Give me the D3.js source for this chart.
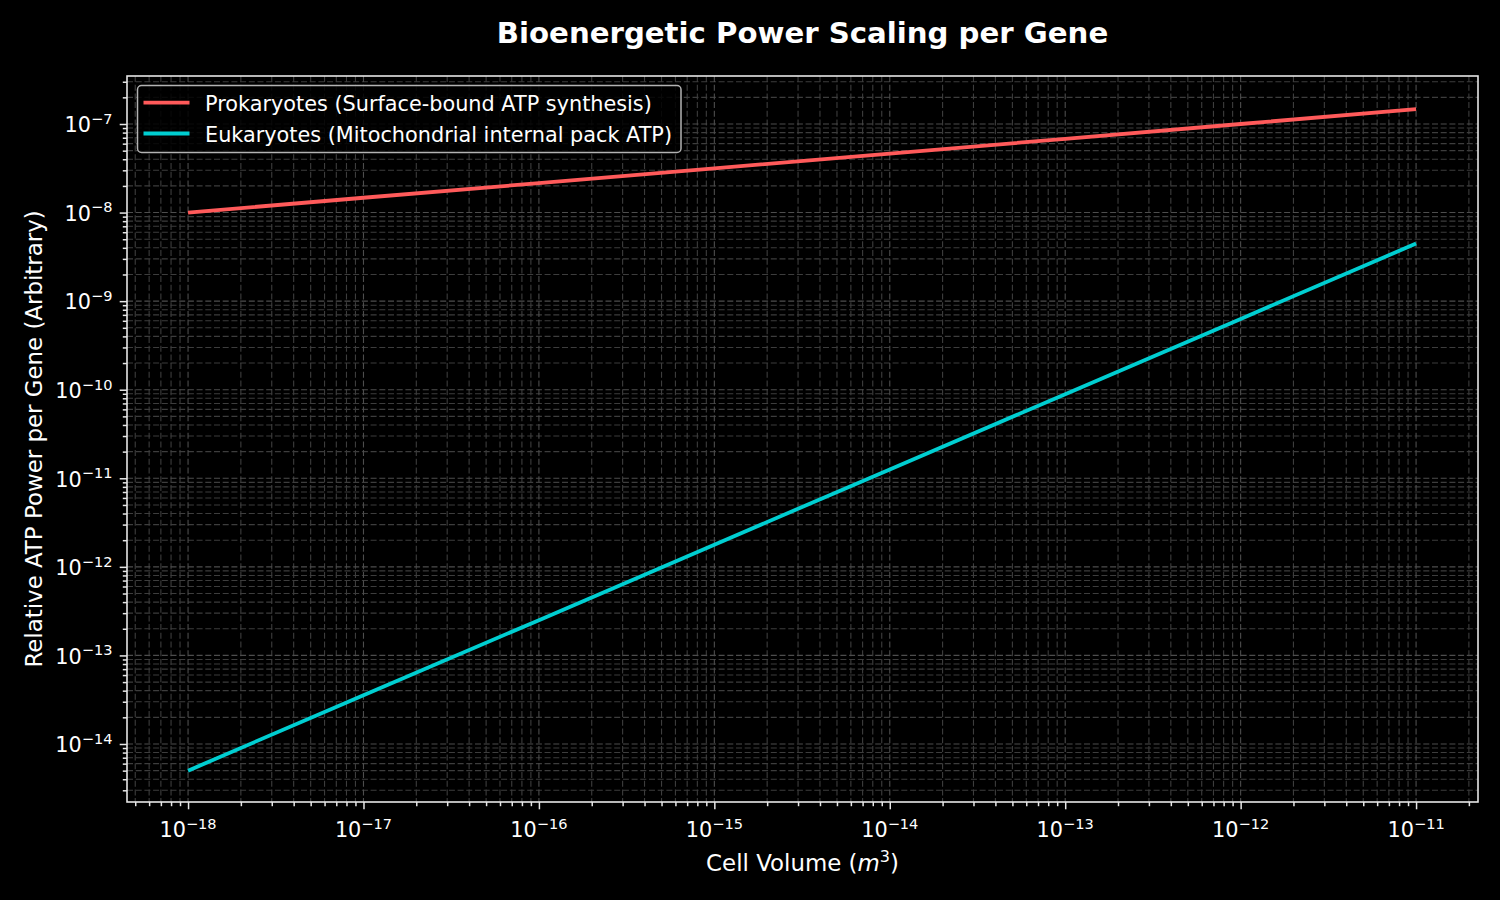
<!DOCTYPE html>
<html>
<head>
<meta charset="utf-8">
<script src="https://cdn.jsdelivr.net/npm/d3@7"></script>
<style>
  html, body { margin: 0; padding: 0; background: #000; }
  svg { display: block; font-family: "DejaVu Sans", sans-serif; }
</style>
</head>
<body>
<svg id="chart" width="1500" height="900"></svg>
<script>
// ---- data ----
const volumes = [1e-18, 1e-17, 1e-16, 1e-15, 1e-14, 1e-13, 1e-12, 1e-11];
const prokaryotePower = [1.0e-8, 1.47e-8, 2.15e-8, 3.16e-8, 4.64e-8, 6.8e-8, 1.0e-7, 1.47e-7];
const eukaryotePower = [5.0e-15, 3.55e-14, 2.5e-13, 1.78e-12, 1.26e-11, 8.9e-11, 6.3e-10, 4.47e-9];
const seriesNames = ["Prokaryotes (Surface-bound ATP synthesis)", "Eukaryotes (Mitochondrial internal pack ATP)"];
const seriesColors = ["#ff5a5a", "#00ced1"];
const xTickExps = [-18, -17, -16, -15, -14, -13, -12, -11];
const yTickExps = [-14, -13, -12, -11, -10, -9, -8, -7];
const titleText = "Bioenergetic Power Scaling per Gene";
const yLabelText = "Relative ATP Power per Gene (Arbitrary)";

// ---- layout ----
const W = 1500, H = 900;
const L = 127, R = 1478, T = 76, B = 802;
const svg = d3.select("#chart");
svg.append("rect").attr("width", W).attr("height", H).attr("fill", "#000");

const x = d3.scaleLog().domain([Math.pow(10, -18.348), Math.pow(10, -10.647)]).range([L, R]);
const y = d3.scaleLog().domain([Math.pow(10, -14.655), Math.pow(10, -6.458)]).range([B, T]);

function logTicks(lo, hi) {
  const major = [], minor = [];
  for (let e = Math.floor(Math.log10(lo)) - 1; e <= Math.ceil(Math.log10(hi)); e++) {
    for (let m = 1; m < 10; m++) {
      const v = m * Math.pow(10, e);
      if (v < lo || v > hi) continue;
      (m === 1 ? major : minor).push(v);
    }
  }
  return { major, minor };
}
const xt = logTicks(...x.domain());
const yt = logTicks(...y.domain());

// ---- grid ----
const grid = svg.append("g");
function gridLines(vals, isX, dash, width, color) {
  grid.selectAll(null).data(vals).enter().append("line")
    .attr("x1", d => isX ? x(d) : L).attr("x2", d => isX ? x(d) : R)
    .attr("y1", d => isX ? T : y(d)).attr("y2", d => isX ? B : y(d))
    .attr("stroke", color).attr("stroke-width", width)
    .attr("stroke-dasharray", dash);
}
gridLines(xt.minor, true, "6,2.7", 1.1, "#3d3d3d");
gridLines(yt.minor, false, "6,2.7", 1.1, "#3d3d3d");
gridLines(xt.major, true, "6,2.7", 1.1, "#4d4d4d");
gridLines(yt.major, false, "6,2.7", 1.1, "#4d4d4d");

// ---- lines ----
const line = d3.line().x(d => x(d[0])).y(d => y(d[1]));
const series = [prokaryotePower, eukaryotePower];
series.forEach((vals, i) => {
  svg.append("path")
    .datum(volumes.map((v, j) => [v, vals[j]]))
    .attr("d", line).attr("fill", "none")
    .attr("stroke", seriesColors[i]).attr("stroke-width", 3.8)
    .attr("stroke-linecap", "butt");
});

// ---- axes ----
const axisColor = "#e6e6e6";
const xAxis = svg.append("g").attr("transform", `translate(0,${B})`);
xAxis.call(d3.axisBottom(x).tickValues(xt.major).tickSize(7.3).tickFormat(""));
const xMinor = svg.append("g").attr("transform", `translate(0,${B})`);
xMinor.call(d3.axisBottom(x).tickValues(xt.minor).tickSize(4.2).tickFormat(""));
const yAxis = svg.append("g").attr("transform", `translate(${L},0)`);
yAxis.call(d3.axisLeft(y).tickValues(yt.major).tickSize(7.3).tickFormat(""));
const yMinor = svg.append("g").attr("transform", `translate(${L},0)`);
yMinor.call(d3.axisLeft(y).tickValues(yt.minor).tickSize(4.2).tickFormat(""));
[xAxis, xMinor, yAxis, yMinor].forEach(g => {
  g.select(".domain").remove();
  g.selectAll("line").attr("stroke", axisColor).attr("stroke-width", 1.5);
});
// frame
svg.append("rect").attr("x", L).attr("y", T).attr("width", R - L).attr("height", B - T)
  .attr("fill", "none").attr("stroke", axisColor).attr("stroke-width", 1.6);

// tick labels
const tickFont = 20.8;
xTickExps.forEach(e => {
  const t = svg.append("text").attr("x", x(Math.pow(10, e))).attr("y", B + 35)
    .attr("text-anchor", "middle").attr("fill", "#fff").attr("font-size", tickFont);
  t.append("tspan").text("10");
  t.append("tspan").attr("dy", -8.5).attr("font-size", tickFont * 0.7).text("\u2212" + Math.abs(e));
});
yTickExps.forEach(e => {
  const t = svg.append("text").attr("x", L - 14.6).attr("y", y(Math.pow(10, e)) + 8.3)
    .attr("text-anchor", "end").attr("fill", "#fff").attr("font-size", tickFont);
  t.append("tspan").text("10");
  t.append("tspan").attr("dy", -8.5).attr("font-size", tickFont * 0.7).text("\u2212" + Math.abs(e));
});

// ---- titles ----
svg.append("text").attr("x", (L + R) / 2).attr("y", 43).attr("text-anchor", "middle")
  .attr("fill", "#fff").attr("font-size", 29.2).attr("font-weight", "bold").text(titleText);

const xl = svg.append("text").attr("x", (L + R) / 2).attr("y", 871).attr("text-anchor", "middle")
  .attr("fill", "#fff").attr("font-size", 22.9);
xl.append("tspan").text("Cell Volume (");
xl.append("tspan").attr("font-style", "italic").text("m");
xl.append("tspan").attr("dy", -9).attr("font-size", 16).text("3");
xl.append("tspan").attr("dy", 9).text(")");

svg.append("text").attr("transform", `translate(41.5,${(T + B) / 2}) rotate(-90)`)
  .attr("text-anchor", "middle").attr("fill", "#fff").attr("font-size", 22.9).text(yLabelText);

// ---- legend ----
const lg = svg.append("g");
lg.append("rect").attr("x", 137.5).attr("y", 85.5).attr("width", 543.5).attr("height", 67)
  .attr("rx", 4).attr("fill", "rgba(0,0,0,0.85)").attr("stroke", "#b3b3b3").attr("stroke-width", 1.5);
seriesNames.forEach((n, i) => {
  const yy = 102.7 + i * 30.8;
  lg.append("line").attr("x1", 143.5).attr("x2", 189.5).attr("y1", yy).attr("y2", yy)
    .attr("stroke", seriesColors[i]).attr("stroke-width", 3.8);
  lg.append("text").attr("x", 205).attr("y", yy + 8).attr("fill", "#fff")
    .attr("font-size", 20.8).text(n);
});
</script>
</body>
</html>
